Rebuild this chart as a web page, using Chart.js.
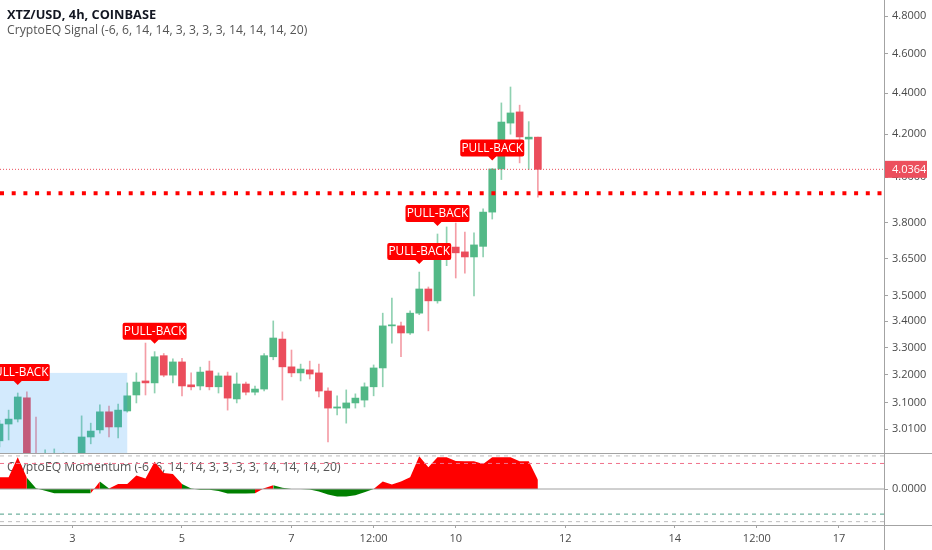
<!DOCTYPE html>
<html>
<head>
<meta charset="utf-8">
<script src="https://cdn.jsdelivr.net/npm/chart.js@4.4.1/dist/chart.umd.min.js"></script>
<style>
  body { margin: 0; background: #fff; }
  #wrap { position: relative; width: 932px; height: 550px; overflow: hidden; }
  #pricePane { position: absolute; left: 0; top: 0; width: 932px; height: 453px; }
  #momPane { position: absolute; left: 0; top: 453px; width: 932px; height: 97px; }
</style>
</head>
<body>
<div id="wrap">
  <div id="pricePane"><canvas id="priceChart" width="932" height="453"></canvas></div>
  <div id="momPane"><canvas id="momChart" width="932" height="97"></canvas></div>
</div>
<script>
// 4h candles, first one opens on day 1 at 16:00
const opens  = [2.97, 3.027, 3.044, 3.118, 2.89, 2.87, 2.88, 2.89, 2.90, 2.91, 2.983, 3.007, 3.069, 3.017, 3.072, 3.128, 3.178, 3.171, 3.27, 3.199,
                3.247, 3.164, 3.16, 3.214, 3.157, 3.196, 3.114, 3.167, 3.138, 3.149, 3.266, 3.332, 3.229, 3.207, 3.218, 3.207, 3.142, 3.082, 3.082, 3.100,
                3.11, 3.157, 3.225, 3.382, 3.382, 3.355, 3.431, 3.526, 3.479, 3.648, 3.697, 3.677, 3.656, 3.70, 3.846, 4.038, 4.253, 4.307, 4.177, 4.186];
const highs  = [3.04, 3.075, 3.135, 3.139, 3.051, 2.94, 2.943, 2.93, 2.925, 3.055, 3.03, 3.093, 3.089, 3.096, 3.171, 3.207, 3.317, 3.285, 3.278, 3.258,
                3.26, 3.207, 3.228, 3.25, 3.207, 3.21, 3.207, 3.174, 3.16, 3.278, 3.401, 3.359, 3.291, 3.239, 3.25, 3.239, 3.153, 3.125, 3.146, 3.132,
                3.171, 3.236, 3.431, 3.49, 3.397, 3.44, 3.594, 3.534, 3.752, 3.782, 3.799, 3.76, 3.757, 3.86, 4.04, 4.351, 4.43, 4.34, 4.26, 4.186];
const lows   = [2.95, 2.973, 3.034, 2.86, 2.84, 2.85, 2.86, 2.87, 2.88, 2.90, 2.96, 2.996, 2.983, 2.98, 3.068, 3.10, 3.128, 3.135, 3.193, 3.171,
                3.125, 3.146, 3.146, 3.146, 3.135, 3.075, 3.10, 3.128, 3.128, 3.142, 3.255, 3.11, 3.193, 3.178, 3.185, 3.121, 2.966, 3.058, 3.03, 3.082,
                3.086, 3.125, 3.157, 3.317, 3.266, 3.35, 3.425, 3.363, 3.47, 3.62, 3.57, 3.59, 3.498, 3.656, 3.816, 3.99, 4.20, 4.066, 4.036, 3.912];
const closes = [3.027, 3.044, 3.121, 2.89, 2.87, 2.88, 2.89, 2.90, 2.91, 2.983, 3.003, 3.069, 3.017, 3.075, 3.125, 3.174, 3.171, 3.266, 3.199, 3.247,
                3.16, 3.157, 3.21, 3.157, 3.196, 3.117, 3.167, 3.138, 3.149, 3.27, 3.336, 3.229, 3.207, 3.221, 3.203, 3.142, 3.082, 3.086, 3.100, 3.117,
                3.157, 3.225, 3.382, 3.386, 3.355, 3.431, 3.526, 3.479, 3.648, 3.69, 3.673, 3.656, 3.706, 3.846, 4.038, 4.258, 4.302, 4.187, 4.186, 4.0364];

// momentum indicator, one value per candle
const momentum = [2.8, 2.8, 7.6, 2.7, 0.2, -0.4, -1.0, -1.0, -1.0, -1.0, -1.0, 1.8, 0.1, 1.2, 1.2, 3.2, 2.5, 6.5, 3.8, 3.6,
                  1.2, 0.1, -0.2, -0.2, -0.5, -1.1, -1.1, -1.1, -1.0, 0.2, 0.9, 0.3, 0.0, 0.0, -0.1, -0.6, -1.3, -1.8, -1.8, -1.5,
                  -0.8, 0.0, 1.8, 1.1, 1.8, 2.8, 7.8, 5.2, 7.6, 7.6, 6.7, 6.6, 6.6, 6.0, 7.6, 7.6, 7.6, 6.6, 6.6, 2.2];
// 1 = the area leading into this candle is green
const momentumGreen = [0, 0, 0, 0, 1, 1, 1, 1, 1, 1, 1, 0, 1, 0, 0, 0, 0, 0, 0, 0,
                       0, 1, 1, 1, 1, 1, 1, 1, 1, 0, 0, 1, 1, 1, 1, 1, 1, 1, 1, 1,
                       1, 1, 0, 0, 0, 0, 0, 0, 0, 0, 0, 0, 0, 0, 0, 0, 0, 0, 0, 0];
const momentumLevels = [6.1, -6];
const momentumBands = [7.9, -7.8];

const signalBars = [2, 17, 46, 48, 54];
const priceTicks = [3.01, 3.1, 3.2, 3.3, 3.4, 3.5, 3.65, 3.8, 4.0, 4.2, 4.4, 4.6, 4.8];
const dayTicks = [3, 5, 7, 8.5, 10, 12, 14, 15.5, 17];
const dayTickLabels = ['3', '5', '7', '12:00', '10', '12', '14', '12:00', '17'];
const lastPrice = 4.0364;
const supportLevel = 3.929;
const boxTop = 3.207;
const boxEndDay = 4;

const firstBar = 1 + 16 / 24;
const times = opens.map((o, i) => firstBar + i * 4 / 24);
const xMin = 1.6758, xMax = 17.822;

const upColor = '#53b987', downColor = '#eb4d5c';
const upWick = 'rgba(83,185,135,0.65)', downWick = 'rgba(235,77,92,0.55)';
const axisColor = '#a3a3a3';
const textColor = '#4a4a4a';
const fontFamily = '"Open Sans", sans-serif';

Chart.defaults.font.family = fontFamily;
Chart.defaults.color = textColor;

const isUp = opens.map((o, i) => closes[i] >= o);

function flatLine(value) {
  return [{ x: xMin, y: value }, { x: xMax, y: value }];
}

function fixAxis(scale) {
  scale.width = 48;
  scale.paddingTop = 0;
  scale.paddingBottom = 0;
}

function drawPullBack(ctx, x, tipY) {
  const w = 64, h = 17, r = 2;
  const bottom = tipY - 4;
  const left = x - w / 2, top = bottom - h;
  ctx.fillStyle = '#ff0000';
  ctx.beginPath();
  ctx.moveTo(left + r, top);
  ctx.lineTo(left + w - r, top);
  ctx.quadraticCurveTo(left + w, top, left + w, top + r);
  ctx.lineTo(left + w, bottom - r);
  ctx.quadraticCurveTo(left + w, bottom, left + w - r, bottom);
  ctx.lineTo(x + 4, bottom);
  ctx.lineTo(x, tipY);
  ctx.lineTo(x - 4, bottom);
  ctx.lineTo(left + r, bottom);
  ctx.quadraticCurveTo(left, bottom, left, bottom - r);
  ctx.lineTo(left, top + r);
  ctx.quadraticCurveTo(left, top, left + r, top);
  ctx.fill();
  ctx.fillStyle = '#fff';
  ctx.font = '500 11.8px ' + fontFamily;
  ctx.textAlign = 'center';
  ctx.textBaseline = 'middle';
  ctx.fillText('PULL-BACK', x, top + h / 2 + 0.5);
}

const pricePlugin = {
  id: 'pricePlugin',
  beforeDatasetsDraw(chart) {
    const ctx = chart.ctx;
    ctx.save();
    ctx.textAlign = 'left';
    ctx.textBaseline = 'middle';
    ctx.fillStyle = '#131722';
    ctx.font = 'bold 12.8px ' + fontFamily;
    ctx.fillText('XTZ/USD, 4h, COINBASE', 7, 15);
    ctx.fillStyle = '#555';
    ctx.font = '12.2px ' + fontFamily;
    ctx.fillText('CryptoEQ Signal (-6, 6, 14, 14, 3, 3, 3, 3, 14, 14, 14, 20)', 7, 31);
    ctx.restore();
  },
  afterDatasetsDraw(chart) {
    const ctx = chart.ctx, xs = chart.scales.x, ys = chart.scales.y, area = chart.chartArea;
    ctx.save();
    // highlighted range
    const bx1 = xs.getPixelForValue(boxEndDay);
    const by = ys.getPixelForValue(boxTop);
    ctx.fillStyle = 'rgba(33,150,243,0.2)';
    ctx.fillRect(area.left, by, bx1 - area.left, area.bottom - by);
    // signal labels
    signalBars.forEach(i => {
      const x = xs.getPixelForValue(times[i]);
      const y = ys.getPixelForValue(highs[i]);
      drawPullBack(ctx, x, y - 8);
    });
    ctx.restore();
  },
  afterDraw(chart) {
    const ctx = chart.ctx, ys = chart.scales.y, area = chart.chartArea;
    ctx.save();
    ctx.strokeStyle = axisColor;
    ctx.lineWidth = 1;
    ctx.beginPath();
    ctx.moveTo(area.right + 0.5, 0);
    ctx.lineTo(area.right + 0.5, chart.height);
    ctx.stroke();
    // last price tag on the axis
    const y = ys.getPixelForValue(lastPrice);
    ctx.fillStyle = '#ec4f5d';
    ctx.fillRect(area.right + 1, y - 8.5, 42, 17);
    ctx.fillStyle = '#fff';
    ctx.font = '11px ' + fontFamily;
    ctx.textAlign = 'left';
    ctx.textBaseline = 'middle';
    ctx.fillText(lastPrice.toFixed(4), area.right + 8, y + 0.5);
    ctx.restore();
  }
};

new Chart(document.getElementById('priceChart'), {
  type: 'bar',
  data: {
    datasets: [
      {
        type: 'line',
        data: flatLine(supportLevel),
        borderColor: '#ff0000',
        borderWidth: 4,
        borderDash: [4, 7.7],
        pointRadius: 0,
        order: 0
      },
      {
        type: 'line',
        data: flatLine(lastPrice),
        borderColor: '#eb4d5c',
        borderWidth: 1,
        borderDash: [1, 2],
        pointRadius: 0,
        order: 0
      },
      {
        data: times.map((t, i) => ({ x: t, y: [opens[i], closes[i]] })),
        backgroundColor: isUp.map(u => u ? upColor : downColor),
        barThickness: 7,
        minBarLength: 1,
        grouped: false,
        order: 1
      },
      {
        data: times.map((t, i) => ({ x: t, y: [lows[i], highs[i]] })),
        backgroundColor: isUp.map(u => u ? upWick : downWick),
        barThickness: 1,
        grouped: false,
        order: 2
      }
    ]
  },
  options: {
    responsive: false,
    animation: false,
    events: [],
    layout: { padding: 0 },
    plugins: { legend: { display: false }, tooltip: { enabled: false } },
    scales: {
      x: {
        type: 'linear',
        min: xMin,
        max: xMax,
        bounds: 'data',
        offset: false,
        display: false
      },
      y: {
        type: 'logarithmic',
        position: 'right',
        min: 2.9295,
        max: 4.8876,
        bounds: 'data',
        afterFit: fixAxis,
        afterBuildTicks: s => { s.ticks = priceTicks.map(v => ({ value: v })); },
        grid: { drawOnChartArea: false, tickLength: 4, color: axisColor },
        border: { display: true, color: axisColor },
        ticks: {
          padding: 4,
          color: textColor,
          font: { size: 11 },
          callback: v => Number(v).toFixed(4)
        }
      }
    }
  },
  plugins: [pricePlugin]
});

const momPlugin = {
  id: 'momPlugin',
  beforeDatasetsDraw(chart) {
    const ctx = chart.ctx;
    ctx.save();
    ctx.fillStyle = '#555';
    ctx.font = '12.2px ' + fontFamily;
    ctx.textAlign = 'left';
    ctx.textBaseline = 'middle';
    ctx.fillText('CryptoEQ Momentum (-6, 6, 14, 14, 3, 3, 3, 3, 14, 14, 14, 20)', 7, 15);
    ctx.restore();
  },
  afterDraw(chart) {
    const ctx = chart.ctx, area = chart.chartArea;
    ctx.save();
    ctx.strokeStyle = axisColor;
    ctx.lineWidth = 1;
    ctx.beginPath();
    ctx.moveTo(0, 0.5);
    ctx.lineTo(chart.width, 0.5);
    ctx.moveTo(0, area.bottom + 0.5);
    ctx.lineTo(chart.width, area.bottom + 0.5);
    ctx.moveTo(area.right + 0.5, 0);
    ctx.lineTo(area.right + 0.5, chart.height);
    ctx.stroke();
    ctx.restore();
  }
};

new Chart(document.getElementById('momChart'), {
  type: 'line',
  data: {
    datasets: [
      {
        data: flatLine(0),
        borderColor: '#a0a0a0',
        borderWidth: 1,
        pointRadius: 0
      },
      {
        data: flatLine(momentumBands[0]),
        borderColor: '#bdbdbd',
        borderWidth: 1,
        borderDash: [4, 4],
        pointRadius: 0
      },
      {
        data: flatLine(momentumLevels[0]),
        borderColor: '#f0708a',
        borderWidth: 1,
        borderDash: [4, 4],
        pointRadius: 0
      },
      {
        data: flatLine(momentumLevels[1]),
        borderColor: '#4c9e86',
        borderWidth: 1,
        borderDash: [4, 4],
        pointRadius: 0
      },
      {
        data: flatLine(momentumBands[1]),
        borderColor: '#bdbdbd',
        borderWidth: 1,
        borderDash: [4, 4],
        pointRadius: 0
      },
      {
        data: times.map((t, i) => ({ x: t, y: momentum[i] })),
        borderWidth: 0,
        borderColor: 'rgba(0,0,0,0)',
        backgroundColor: '#ff0000',
        fill: 'origin',
        pointRadius: 0,
        tension: 0,
        segment: {
          backgroundColor: c => momentumGreen[c.p1DataIndex] ? '#008000' : '#ff0000'
        }
      }
    ]
  },
  options: {
    responsive: false,
    animation: false,
    events: [],
    layout: { padding: 0 },
    plugins: { legend: { display: false }, tooltip: { enabled: false } },
    scales: {
      x: {
        type: 'linear',
        min: xMin,
        max: xMax,
        bounds: 'data',
        offset: false,
        afterFit: s => { s.height = 25; s.paddingLeft = 0; s.paddingRight = 0; },
        afterBuildTicks: s => { s.ticks = dayTicks.map(v => ({ value: v })); },
        grid: { drawOnChartArea: false, tickLength: 3, color: axisColor },
        border: { display: true, color: axisColor },
        ticks: {
          padding: 4,
          maxRotation: 0,
          autoSkip: false,
          color: textColor,
          font: { size: 11 },
          callback: v => dayTickLabels[dayTicks.indexOf(v)]
        }
      },
      y: {
        type: 'linear',
        position: 'right',
        min: -8.6,
        max: 8.6,
        bounds: 'data',
        afterFit: fixAxis,
        afterBuildTicks: s => { s.ticks = [{ value: 0 }]; },
        grid: { drawOnChartArea: false, tickLength: 4, color: axisColor },
        border: { display: true, color: axisColor },
        ticks: {
          padding: 4,
          color: textColor,
          font: { size: 11 },
          callback: v => Number(v).toFixed(4)
        }
      }
    }
  },
  plugins: [momPlugin]
});
</script>
</body>
</html>
